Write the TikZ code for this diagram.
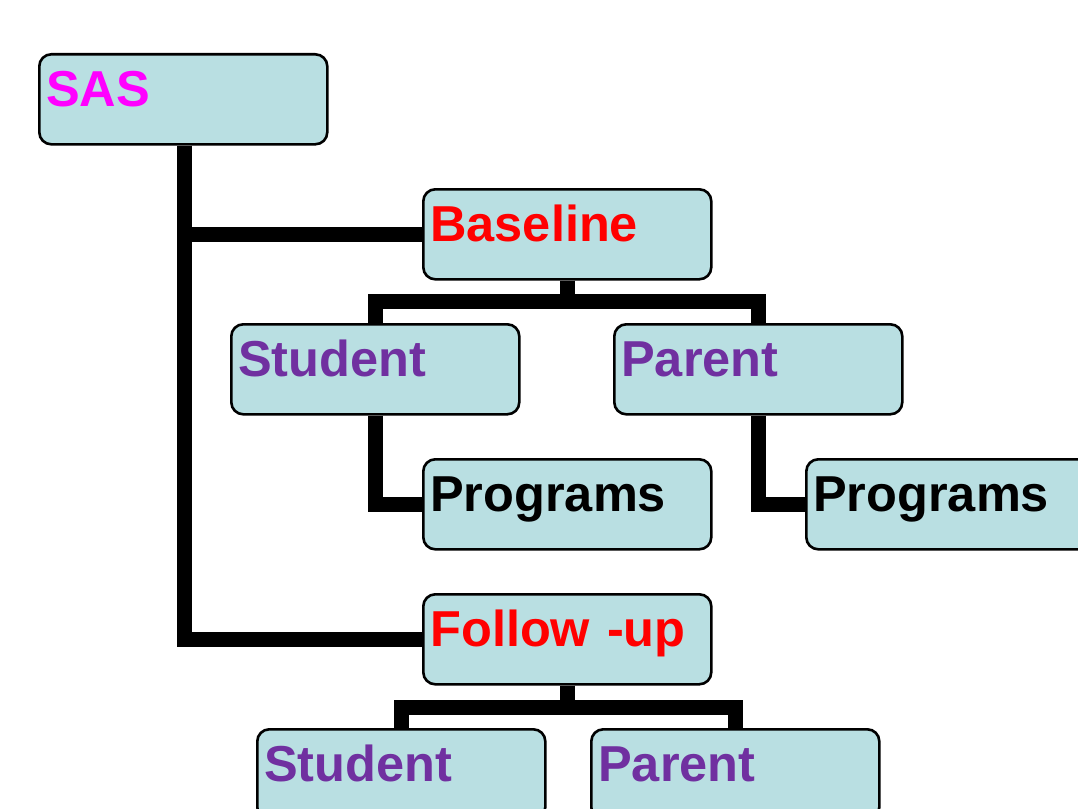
\documentclass[tikz,border=0pt]{standalone}
\usepackage{fontspec}
\setmainfont{Liberation Sans}
\definecolor{boxfill}{RGB}{185,223,226}
\definecolor{lvlred}{RGB}{255,0,0}
\definecolor{lvlmag}{RGB}{255,0,255}
\definecolor{lvlpur}{RGB}{112,48,160}
\pgfdeclarelayer{background}
\pgfsetlayers{background,main}
\begin{document}
\begin{tikzpicture}[x=1pt,y=1pt,
  orgbox/.style={draw=black, line width=2.6pt, fill=boxfill, rounded corners=12pt,
    anchor=north west, inner xsep=7pt, inner ysep=0pt, text width=274pt, align=left,
    text height=52pt, text depth=38pt,
    font=\fontsize{50.5}{60}\selectfont\bfseries},
  conn/.style={line width=15pt, line join=miter, line cap=butt, draw=black}]
\useasboundingbox (0,0) rectangle (1078,-808);
\clip (0,0) rectangle (1078,-808);
\node[orgbox, text=lvlmag] (sas) at (38,-53) {SAS};
\node[orgbox, text=lvlred] (base) at (422,-188) {Baseline};
\node[orgbox, text=lvlpur] (stud) at (230,-323) {Student};
\node[orgbox, text=lvlpur] (par) at (613,-323) {Parent};
\node[orgbox, text=black] (prog1) at (422,-458) {Programs};
\node[orgbox, text=black] (prog2) at (805,-458) {Programs};
\node[orgbox, text=lvlred] (fol) at (422,-593) {Follow -up};
\node[orgbox, text=lvlpur] (stud2) at (256,-728) {Student};
\node[orgbox, text=lvlpur] (par2) at (590,-728) {Parent};
\begin{pgfonlayer}{background}
\draw[conn] ([xshift=146pt]sas.south west) |- (base.west);
\draw[conn] ([xshift=146pt]sas.south west) |- (fol.west);
\draw[conn] (base.south) -- ++(0,-21) -| (stud.north);
\draw[conn] (base.south) -- ++(0,-21) -| (par.north);
\draw[conn] (stud.south) |- (prog1.west);
\draw[conn] (par.south) |- (prog2.west);
\draw[conn] (fol.south) -- ++(0,-22) -| (stud2.north);
\draw[conn] (fol.south) -- ++(0,-22) -| (par2.north);
\end{pgfonlayer}
\end{tikzpicture}
\end{document}
